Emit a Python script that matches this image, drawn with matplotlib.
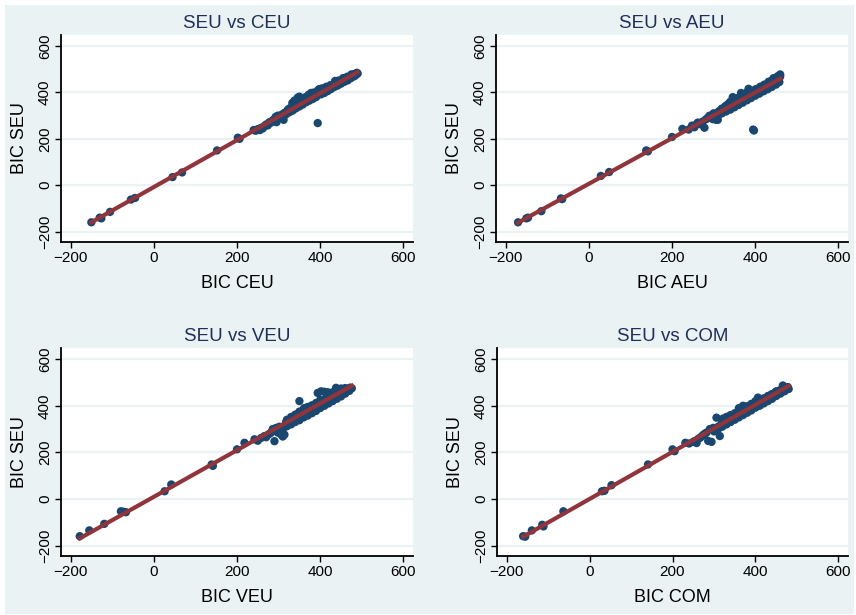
import matplotlib
matplotlib.use("Agg")
import matplotlib.pyplot as plt
import numpy as np
from matplotlib.patches import Rectangle

# Colours (Stata s2color look)
BG_COLOR = "#EAF2F3"
GRID_COLOR = "#EAF2F3"
MARKER_COLOR = "#1A476F"
LINE_COLOR = "#90353B"
TITLE_COLOR = "#1F2F5C"

plt.rcParams["font.family"] = ["Liberation Sans", "DejaVu Sans"]

# Data: BIC of the other model (x) vs BIC SEU (y)
ceu_x = [-150, -130, -126, -105, -55, -45, 45, 68, 152, 202, 206,
         240, 245, 250, 255, 258, 262, 266, 270, 274, 278, 282, 286, 290, 293,
         295, 298, 300, 304, 308, 312, 314, 318, 322, 326, 330, 333, 336, 338,
         340, 343, 346, 348, 350, 353, 356, 360, 364, 368, 372, 376, 378, 380,
         384, 388, 392, 394, 396, 398, 400, 405, 410, 414, 418, 422, 426, 430,
         434, 436, 440, 444, 448, 452, 456, 460, 464, 468, 472, 476, 480, 484,
         488, 490,
         302, 310, 318, 326, 334, 342, 350, 358, 366, 374, 382, 390, 402, 410,
         418, 426, 434, 442, 450, 458, 466, 474, 482, 486,
         325, 335, 345, 355, 365, 372, 385, 395, 405, 415, 425, 435, 445, 455,
         465, 475]
ceu_y = [-160, -140, -143, -115, -62, -55, 35, 55, 150, 205, 200,
         238, 235, 242, 238, 248, 245, 255, 262, 258, 272, 270, 280, 285, 295,
         272, 300, 290, 298, 305, 282, 312, 310, 325, 318, 335, 355, 330, 365,
         340, 345, 378, 350, 382, 355, 360, 362, 370, 368, 375, 372, 398, 380,
         385, 388, 392, 268, 395, 415, 400, 402, 405, 410, 412, 418, 420, 425,
         438, 450, 432, 438, 440, 446, 450, 452, 455, 460, 465, 470, 478, 480,
         485, 482,
         292, 300, 306, 315, 322, 332, 340, 348, 358, 365, 372, 380, 392, 398,
         406, 415, 424, 430, 438, 446, 452, 462, 470, 476,
         330, 345, 360, 372, 380, 390, 400, 410, 418, 425, 432, 445, 452, 462,
         468, 478]

aeu_x = [-170, -150, -146, -114, -67, -64, 29, 49, 138, 142, 200, 225,
         240, 248, 254, 258, 262, 266, 270, 274, 278, 282, 286, 290, 294,
         298, 300, 304, 306, 310, 312, 316, 320, 324, 328, 332, 336, 340, 344,
         346, 350, 354, 358, 362, 366, 370, 374, 378, 382, 384, 388, 392, 395,
         397, 400, 404, 408, 412, 416, 420, 424, 428, 432, 436, 440, 444, 448,
         452, 454, 456, 458, 460,
         300, 310, 320, 330, 340, 350, 360, 370, 380, 390, 400, 410, 420, 430,
         440, 450, 458,
         320, 330, 340, 350, 360, 370, 380, 392, 402, 412, 422, 432, 442, 452,
         460]
aeu_y = [-160, -143, -140, -112, -57, -60, 40, 57, 150, 146, 208, 243,
         240, 257, 250, 262, 270, 268, 262, 275, 248, 285, 290, 300, 295,
         285, 310, 305, 282, 282, 318, 322, 330, 328, 340, 345, 352, 348, 358,
         380, 360, 362, 372, 368, 398, 375, 382, 385, 390, 416, 392, 398, 240,
         236, 402, 408, 412, 415, 420, 428, 430, 432, 440, 448, 445, 462, 450,
         455, 470, 458, 462, 478,
         290, 298, 310, 318, 326, 336, 346, 356, 366, 376, 386, 395, 405, 414,
         424, 434, 445,
         330, 342, 360, 372, 378, 392, 400, 408, 415, 425, 434, 446, 455, 462,
         470]

veu_x = [-178, -155, -119, -79, -73, -67, 26, 42, 139, 142, 200, 218,
         242, 250, 258, 266, 270, 274, 278, 282, 286, 290, 294, 298, 302,
         306, 310, 314, 318, 322, 326, 330, 334, 338, 342, 346, 350, 354, 358,
         362, 366, 370, 374, 378, 382, 386, 390, 394, 398, 402, 406, 410, 414,
         418, 422, 426, 430, 434, 438, 442, 446, 450, 454, 460, 466, 472, 476,
         300, 310, 320, 330, 340, 350, 360, 370, 380, 390, 400, 410, 420, 430,
         440, 450, 460, 470,
         320, 330, 340, 350, 360, 370, 380, 390, 400, 410, 420, 430, 440, 450,
         460]
veu_y = [-160, -135, -107, -53, -55, -57, 33, 62, 148, 142, 213, 241,
         256, 250, 262, 270, 265, 275, 280, 285, 300, 248, 305, 285, 310,
         277, 268, 276, 330, 320, 340, 332, 345, 338, 352, 365, 420, 362, 372,
         390, 375, 380, 385, 388, 392, 398, 402, 455, 410, 462, 420, 425, 432,
         458, 440, 445, 450, 455, 477, 470, 465, 470, 462, 468, 472, 478, 475,
         290, 300, 312, 320, 330, 338, 350, 358, 368, 378, 390, 400, 410, 420,
         430, 440, 452, 464,
         340, 352, 362, 375, 385, 395, 402, 412, 425, 460, 448, 458, 468, 474,
         476]

com_x = [-160, -155, -139, -114, -111, -63, 30, 36, 53, 141, 200, 205,
         231, 240, 250, 254, 258, 262, 266, 270, 274, 278, 282, 286, 290,
         294, 298, 302, 306, 310, 314, 318, 322, 326, 330, 334, 338, 342, 346,
         350, 354, 358, 362, 366, 370, 374, 378, 382, 386, 390, 394, 398, 402,
         406, 410, 414, 418, 422, 426, 430, 434, 438, 442, 446, 450, 454, 458,
         462, 466, 470, 474, 478,
         300, 310, 320, 330, 340, 350, 360, 370, 380, 390, 400, 410, 420, 430,
         440, 450, 460, 470, 480,
         320, 330, 340, 350, 360, 370, 380, 390, 400, 410, 420, 430, 440, 450,
         460, 470]
com_y = [-160, -162, -135, -111, -118, -53, 33, 35, 59, 148, 213, 205,
         241, 238, 245, 249, 240, 258, 262, 268, 275, 280, 285, 249, 300,
         245, 305, 298, 349, 310, 270, 322, 345, 328, 335, 340, 355, 345, 352,
         358, 360, 365, 372, 385, 400, 378, 382, 388, 392, 395, 400, 405, 410,
         435, 418, 420, 425, 428, 432, 438, 442, 448, 450, 455, 462, 458, 462,
         465, 487, 472, 478, 480,
         290, 300, 310, 320, 330, 340, 350, 360, 370, 380, 392, 400, 410, 420,
         430, 442, 452, 462, 472,
         340, 352, 360, 368, 390, 395, 398, 408, 420, 428, 432, 442, 450, 460,
         468, 478]

panels = [
    ("SEU vs CEU", "BIC CEU", ceu_x, ceu_y, (61, 35, 413, 242)),
    ("SEU vs AEU", "BIC AEU", aeu_x, aeu_y, (496, 35, 848, 242)),
    ("SEU vs VEU", "BIC VEU", veu_x, veu_y, (61, 348, 413, 556)),
    ("SEU vs COM", "BIC COM", com_x, com_y, (497, 348, 848, 556)),
]

W, H = 856, 615
TICKS = [-200, 0, 200, 400, 600]


def main():
    fig = plt.figure(figsize=(W / 100, H / 100), dpi=100, facecolor="white")
    # light graph region behind all four panels
    fig.patches.append(Rectangle((5 / W, 1 - 614 / H), 849 / W, 609 / H,
                                 transform=fig.transFigure, facecolor=BG_COLOR,
                                 edgecolor="none", zorder=-10))

    for title, xlabel, xs, ys, (l, t, r, b) in panels:
        ax = fig.add_axes([l / W, 1 - b / H, (r - l) / W, (b - t) / H])
        ax.set_facecolor("white")
        x = np.array(xs, dtype=float)
        y = np.array(ys, dtype=float)

        ax.scatter(x, y, s=36, color=MARKER_COLOR, edgecolors="none", zorder=3)
        slope, icpt = np.polyfit(x, y, 1)
        fx = np.array([x.min(), x.max()])
        ax.plot(fx, slope * fx + icpt, color=LINE_COLOR, lw=3, zorder=4)

        ax.set_xlim(-223, 623)
        ax.set_ylim(-245, 648)
        ax.set_xticks(TICKS)
        ax.set_yticks(TICKS)
        ax.yaxis.grid(True, color=GRID_COLOR, lw=1.6)
        ax.set_axisbelow(True)

        for side in ("top", "right"):
            ax.spines[side].set_visible(False)
        for side in ("left", "bottom"):
            ax.spines[side].set_linewidth(1.3)

        ax.tick_params(axis="both", direction="out", length=4.5, width=1,
                       labelsize=11, pad=2)
        for lab in ax.get_yticklabels():
            lab.set_rotation(90)
            lab.set_va("center")

        ax.set_title(title, fontsize=13.5, color=TITLE_COLOR, pad=5)
        ax.set_xlabel(xlabel, fontsize=13, labelpad=7)
        ax.set_ylabel("BIC SEU", fontsize=13, labelpad=7)

    fig.savefig("out.png", dpi=100, facecolor="white")
    plt.close(fig)


if __name__ == "__main__":
    main()
